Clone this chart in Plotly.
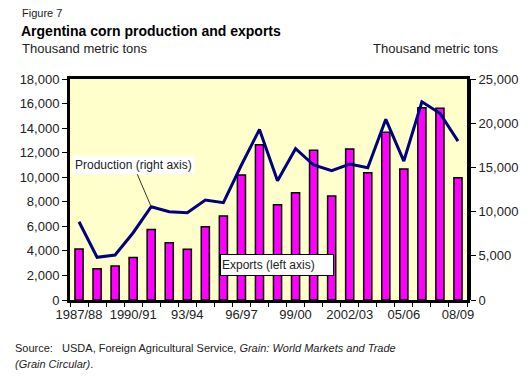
import plotly.graph_objects as go

years = ["1987/88", "88/89", "89/90", "1990/91", "91/92", "92/93", "93/94", "94/95",
         "95/96", "96/97", "97/98", "98/99", "99/00", "2000/01", "01/02", "2002/03",
         "03/04", "04/05", "05/06", "06/07", "07/08", "08/09"]
tick_labels = ["1987/88", "1990/91", "93/94", "96/97", "99/00", "2002/03", "05/06", "08/09"]

exports = [4150, 2550, 2770, 3470, 5750, 4670, 4130, 5970, 6840, 10180, 12650,
           7760, 8740, 12190, 8470, 12300, 10370, 13660, 10670, 15660, 15610, 9960]
production = [8850, 4830, 5090, 7610, 10550, 9990, 9880, 11310, 11010, 15270, 19300,
              13500, 17120, 15270, 14630, 15380, 14970, 20440, 15720, 22430, 21120, 17980]

FONT = "Liberation Sans, Arial, sans-serif"
OFF = 8  # browser default body margin
L, R, T, B = 63 - OFF, 62, 79 - OFF, 76
W, H = 530 - OFF, 376 - OFF
PW, PH = W - L - R, H - T - B


def px(x):
    return (x - OFF - L) / PW


def py(y):
    return (OFF + H - B - y) / PH


fig = go.Figure()
fig.add_trace(go.Bar(x=years, y=exports, width=0.45, name="Exports",
                     marker=dict(color="#FF00FF", line=dict(color="black", width=1.5)),
                     yaxis="y"))
fig.add_trace(go.Scatter(x=years, y=production, mode="lines", name="Production",
                         line=dict(color="#000080", width=3), yaxis="y2"))

tickfont = dict(family=FONT, size=13, color="#222")
fig.update_layout(
    width=W, height=H, margin=dict(l=L, r=R, t=T, b=B),
    paper_bgcolor="white", plot_bgcolor="#FFFFCC", showlegend=False,
    xaxis=dict(type="category", tickvals=years,
               ticktext=[y if y in tick_labels else "" for y in years],
               tickson="boundaries", ticks="outside", ticklen=4, tickcolor="black",
               showline=True, linewidth=3, linecolor="black", mirror=True,
               showgrid=False, tickfont=tickfont, tickangle=0),
    yaxis=dict(range=[0, 18000], dtick=2000, tickformat=",", ticks="outside",
               ticklen=5, tickcolor="black", showline=True, linewidth=3,
               linecolor="black", mirror=True, showgrid=False, zeroline=False,
               tickfont=tickfont),
    yaxis2=dict(range=[0, 25000], dtick=5000, tickformat=",", ticks="outside",
                ticklen=5, tickcolor="black", showline=True, linewidth=4,
                linecolor="black", overlaying="y", side="right", showgrid=False,
                zeroline=False, tickfont=tickfont),
    bargap=0.55,
)

ann = []
ann.append(dict(text="Figure 7", x=px(12), y=py(13), xref="paper", yref="paper",
                xanchor="left", yanchor="middle", showarrow=False,
                font=dict(family=FONT, size=11, color="#222")))
ann.append(dict(text="<b>Argentina corn production and exports</b>", x=px(11), y=py(31),
                xref="paper", yref="paper", xanchor="left", yanchor="middle",
                showarrow=False, font=dict(family=FONT, size=14, color="black")))
ann.append(dict(text="Thousand metric tons", x=px(12), y=py(48), xref="paper", yref="paper",
                xanchor="left", yanchor="middle", showarrow=False,
                font=dict(family=FONT, size=13, color="#222")))
ann.append(dict(text="Thousand metric tons", x=px(503), y=py(48), xref="paper", yref="paper",
                xanchor="right", yanchor="middle", showarrow=False,
                font=dict(family=FONT, size=13, color="#222")))
ann.append(dict(text="Source:\u00a0\u00a0\u00a0USDA, Foreign Agricultural Service, <i>Grain: World Markets and Trade</i>",
                x=px(5), y=py(348), xref="paper", yref="paper", xanchor="left",
                yanchor="middle", showarrow=False,
                font=dict(family=FONT, size=11, color="#222")))
ann.append(dict(text="<i>(Grain Circular)</i>.", x=px(5), y=py(364), xref="paper",
                yref="paper", xanchor="left", yanchor="middle", showarrow=False,
                font=dict(family=FONT, size=11, color="#222")))
# Production label with pointer
ann.append(dict(text="Production (right axis)", x=years[4], y=production[4], xref="x",
                yref="y2", showarrow=True, arrowhead=0, arrowwidth=1, arrowcolor="#333",
                ax=-18, ay=-42, bgcolor="white", borderpad=2,
                font=dict(family=FONT, size=12, color="#222")))
ann.append(dict(text="Exports (left axis)", x=px(274), y=py(265), xref="paper",
                yref="paper", xanchor="center", yanchor="middle", showarrow=False,
                width=110, height=18, align="left", bgcolor="white",
                bordercolor="black", borderwidth=1, borderpad=1,
                font=dict(family=FONT, size=12, color="#222")))
fig.update_layout(annotations=ann)

fig.write_html("out.html")
